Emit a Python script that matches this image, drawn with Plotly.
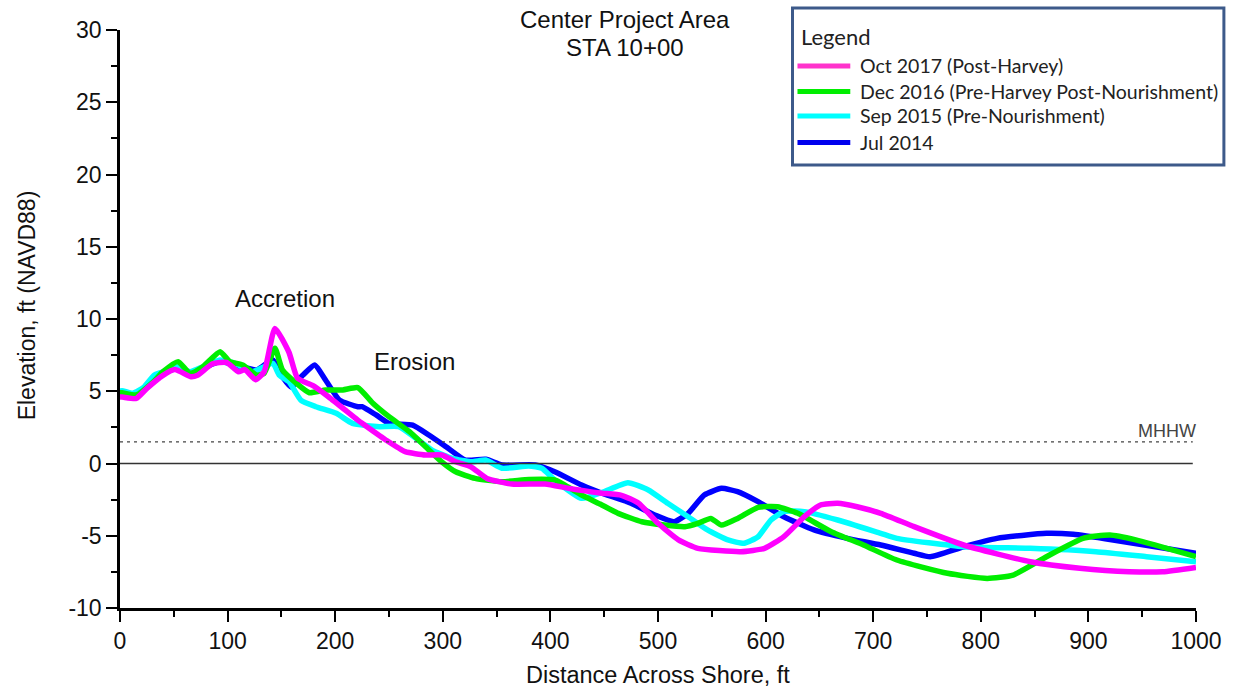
import plotly.graph_objects as go

# ---------------- data ----------------
oct2017_x = [0, 2, 15, 25, 40, 51, 66, 72, 86, 99, 110, 116, 126, 134, 144, 157, 165, 179, 194, 221,
             225, 247, 265, 284, 299, 312, 326, 341, 364, 395, 417, 446, 466, 482, 500, 519, 537, 577,
             599, 617, 636, 651, 667, 685, 707, 738, 784, 846, 892, 938, 969, 1000]
oct2017_y = [4.6, 4.6, 4.5, 5.2, 6.1, 6.5, 6.0, 6.1, 6.9, 7.0, 6.35, 6.5, 5.8, 6.35, 9.35, 7.7, 5.9, 5.4, 4.6, 3.0,
             2.78, 1.63, 0.82, 0.59, 0.59, 0.12, -0.22, -1.03, -1.42, -1.42, -1.72, -2.04, -2.2, -2.75, -4.14, -5.29, -5.87, -6.1,
             -5.87, -5.06, -3.68, -2.87, -2.75, -2.99, -3.45, -4.37, -5.64, -6.8, -7.25, -7.49, -7.49, -7.19]

dec2016_x = [0, 2, 15, 31, 40, 54, 65, 77, 93, 102, 114, 127, 134, 144, 151, 164, 176, 191, 207, 221,
             235, 250, 269, 284, 299, 312, 330, 355, 380, 404, 429, 446, 463, 485, 506, 525, 537, 549,
             559, 574, 593, 611, 630, 661, 691, 722, 769, 806, 830, 861, 895, 920, 944, 1000]
dec2016_y = [4.9, 4.9, 4.74, 5.66, 6.35, 7.05, 6.24, 6.7, 7.74, 7.05, 6.82, 6.12, 6.24, 7.97, 6.47, 5.55, 4.9, 5.09, 5.09, 5.25,
             4.17, 3.24, 2.2, 1.16, 0.12, -0.57, -1.03, -1.26, -1.1, -1.14, -2.18, -2.8, -3.45, -4.03, -4.26, -4.37, -4.14, -3.8,
             -4.26, -3.8, -3.03, -2.99, -3.45, -4.72, -5.64, -6.68, -7.6, -7.95, -7.72, -6.45, -5.18, -4.95, -5.29, -6.45]

sep2015_x = [0, 2, 12, 22, 32, 43, 54, 65, 77, 93, 108, 123, 142, 148, 157, 168, 182, 201, 216, 241,
             259, 275, 290, 309, 327, 340, 355, 380, 392, 404, 429, 448, 472, 491, 509, 528, 546, 565,
             580, 593, 605, 617, 636, 667, 707, 722, 784, 846, 907, 954, 1000]
sep2015_y = [5.0, 5.04, 4.86, 5.27, 6.12, 6.4, 6.7, 6.35, 6.7, 7.16, 6.9, 6.35, 6.93, 6.12, 5.66, 4.39, 3.93, 3.47, 2.78, 2.55,
             2.55, 1.74, 0.93, 0.36, 0.12, 0.24, -0.33, -0.17, -0.33, -1.14, -2.41, -2.0, -1.33, -1.83, -2.75, -3.68, -4.6, -5.29,
             -5.52, -5.07, -3.91, -3.33, -3.33, -3.91, -4.83, -5.18, -5.76, -5.87, -6.1, -6.45, -6.8]

jul2014_x = [0, 12, 22, 32, 43, 54, 65, 77, 93, 108, 127, 142, 151, 159, 170, 181, 191, 204, 221, 225,
             238, 250, 272, 287, 303, 321, 340, 355, 386, 404, 429, 448, 471, 475, 497, 515, 528, 543,
             559, 574, 593, 617, 645, 676, 707, 738, 753, 784, 815, 861, 886, 923, 1000]
jul2014_y = [4.9, 4.8, 5.2, 6.0, 6.35, 6.6, 6.3, 6.6, 7.05, 6.8, 6.47, 7.16, 6.0, 5.3, 6.12, 6.82, 5.78, 4.39, 3.93, 3.93,
             3.36, 2.78, 2.66, 1.97, 1.16, 0.24, 0.29, -0.1, -0.1, -0.57, -1.49, -2.06, -2.64, -2.75, -3.56, -4.03, -3.45, -2.18,
             -1.72, -1.95, -2.64, -3.68, -4.6, -5.18, -5.64, -6.21, -6.45, -5.76, -5.18, -4.83, -4.9, -5.29, -6.21]

series_names = ["Oct 2017 (Post-Harvey)", "Dec 2016 (Pre-Harvey Post-Nourishment)",
                "Sep 2015 (Pre-Nourishment)", "Jul 2014"]
series_colors = ["#FF00FF", "#00EE00", "#00FFFF", "#0000FF"]
legend_colors = ["#FF33CC", "#00EE00", "#00FFFF", "#0000EE"]

mhhw_level = 1.5
x_range = [0, 1000]
y_range = [-10, 30]
x_ticks = [0, 100, 200, 300, 400, 500, 600, 700, 800, 900, 1000]
y_ticks = [-10, -5, 0, 5, 10, 15, 20, 25, 30]
y_tick_labels = ["-10", "-5", "0", "5", "10", "15", "20", "25", "30"]

# ---------------- figure ----------------
W, H = 1234, 691
L, R, T, B = 120, 34, 30, 83
PW, PH = W - L - R, H - T - B


def px_x(p):
    return (p - L) / PW


def px_y(p):
    return (H - B - p) / PH


fig = go.Figure()

xs = [oct2017_x, dec2016_x, sep2015_x, jul2014_x]
ys = [oct2017_y, dec2016_y, sep2015_y, jul2014_y]

# draw Jul 2014 first so Oct 2017 ends on top
for i in [3, 2, 1, 0]:
    fig.add_trace(go.Scatter(
        x=xs[i], y=ys[i], mode="lines", name=series_names[i],
        line=dict(color=series_colors[i], width=5.5, shape="spline", smoothing=0.5),
        showlegend=False, hoverinfo="skip"))

# zero line and MHHW line
fig.add_shape(type="line", xref="x", yref="y", x0=x_range[0], x1=997, y0=0, y1=0,
              line=dict(color="#333333", width=1.3))
fig.add_shape(type="line", xref="x", yref="y", x0=x_range[0], x1=997, y0=mhhw_level, y1=mhhw_level,
              line=dict(color="#444444", width=1.3, dash="3px,4px"))

font_main = "Liberation Sans, Arial, sans-serif"
font_leg = "Lato, Open Sans, sans-serif"
txt = "#111111"


def note(text, xp, yp, size, family=font_main, color=txt, xanchor="center", angle=0):
    return dict(text=text, x=px_x(xp), y=px_y(yp), xref="paper", yref="paper",
                xanchor=xanchor, yanchor="middle", showarrow=False, textangle=angle,
                font=dict(family=family, size=size, color=color))


annotations = [
    note("Center Project Area", 627, 19, 24),
    note("STA 10+00", 627, 47, 24),
    note("Accretion", 286, 298, 24),
    note("Erosion", 416, 361, 24),
    note("MHHW", 1171, 431, 18, color="#444444"),
    note("Distance Across Shore, ft", 660, 675, 23.5),
    note("Elevation, ft (NAVD88)", 27, 305, 23),
    note("Legend", 802, 37, 22, family=font_leg, color="#222222", xanchor="left"),
]
annotations[6]["textangle"] = -90

# legend box
fig.add_shape(type="rect", xref="paper", yref="paper",
              x0=px_x(795), x1=px_x(1228), y0=px_y(8), y1=px_y(165),
              line=dict(color="#3D5A8A", width=3), fillcolor="white", layer="below")

leg_y = [66, 91.5, 116, 142.5]
for i in range(4):
    fig.add_shape(type="line", xref="paper", yref="paper",
                  x0=px_x(800), x1=px_x(853), y0=px_y(leg_y[i]), y1=px_y(leg_y[i]),
                  line=dict(color=legend_colors[i], width=5))
    annotations.append(note(series_names[i], 861, leg_y[i], 19.5, family=font_leg,
                            color="#222222", xanchor="left"))

fig.update_layout(
    width=W, height=H,
    margin=dict(l=L, r=R, t=T, b=B, pad=0),
    paper_bgcolor="white", plot_bgcolor="white",
    showlegend=False,
    annotations=annotations,
    xaxis=dict(range=x_range, tickvals=x_ticks, showgrid=False, zeroline=False,
               showline=True, linecolor="black", linewidth=2.5,
               ticks="outside", ticklen=11, tickwidth=2, tickcolor="black",
               minor=dict(dtick=50, ticks="outside", ticklen=6, tickwidth=2, tickcolor="black"),
               tickfont=dict(family=font_main, size=23, color=txt)),
    yaxis=dict(range=y_range, tickvals=y_ticks, ticktext=y_tick_labels, showgrid=False, zeroline=False,
               showline=True, linecolor="black", linewidth=2.5,
               ticks="outside", ticklen=11, tickwidth=2, tickcolor="black",
               minor=dict(dtick=2.5, ticks="outside", ticklen=6, tickwidth=2, tickcolor="black"),
               tickfont=dict(family=font_main, size=23, color=txt)),
)

fig.write_html("out.html")
